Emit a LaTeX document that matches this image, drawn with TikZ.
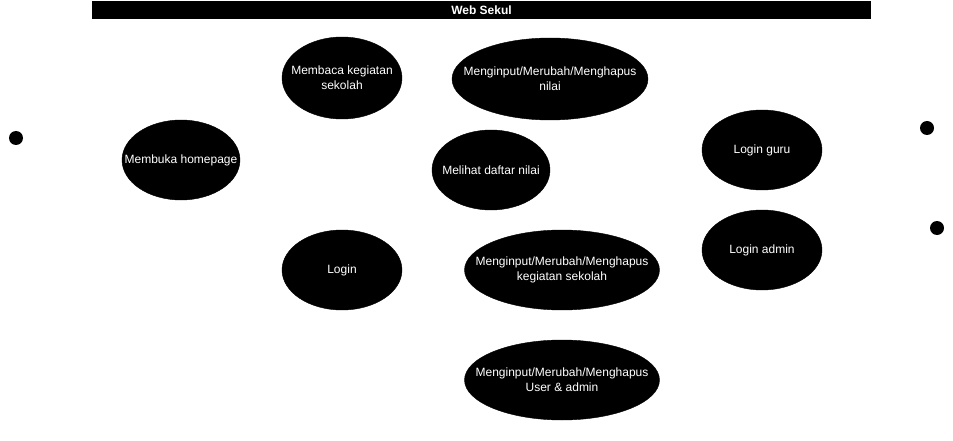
\documentclass[tikz,border=0pt]{standalone}
\usepackage{fontspec}
\setmainfont{Liberation Sans}
\usetikzlibrary{shapes.geometric}
\begin{document}
\begin{tikzpicture}[x=1pt,y=-1pt,
  usecase/.style={ellipse,fill=black,draw=black,inner sep=0pt,
    label={[text=white,align=center,inner sep=0pt,font=\fontsize{12}{15}\selectfont]center:#1}},
  actor/.style={circle,fill=black,inner sep=0pt,minimum size=14pt},
  titlebar/.style={fill=black,text=white,inner sep=0pt,font=\bfseries\fontsize{12}{14}\selectfont}]
\useasboundingbox (0,0) rectangle (953,441);
\node[titlebar,minimum width=779pt,minimum height=18pt] (sys) at (481.5,10) {Web Sekul};
\node[usecase={Membuka homepage},minimum width=118pt,minimum height=80pt] (homepage) at (181,160) {};
\node[usecase={Membaca kegiatan\\sekolah},minimum width=120pt,minimum height=82pt] (baca) at (342,78) {};
\node[usecase={Menginput/Merubah/Menghapus\\nilai},minimum width=196pt,minimum height=82pt] (nilai) at (550,79) {};
\node[usecase={Melihat daftar nilai},minimum width=118pt,minimum height=80pt] (daftar) at (491,170) {};
\node[usecase={Login guru},minimum width=120pt,minimum height=80pt] (guru) at (762,150) {};
\node[usecase={Login admin},minimum width=120pt,minimum height=80pt] (admin) at (762,250) {};
\node[usecase={Login},minimum width=120pt,minimum height=80pt] (login) at (342,270) {};
\node[usecase={Menginput/Merubah/Menghapus\\kegiatan sekolah},minimum width=195pt,minimum height=80pt] (kegiatan) at (562,270) {};
\node[usecase={Menginput/Merubah/Menghapus\\User \& admin},minimum width=195pt,minimum height=80pt] (user) at (562,380) {};
\node[actor] (a1) at (16,138) {};
\node[actor] (a2) at (927,128) {};
\node[actor] (a3) at (937,228) {};
\end{tikzpicture}
\end{document}
